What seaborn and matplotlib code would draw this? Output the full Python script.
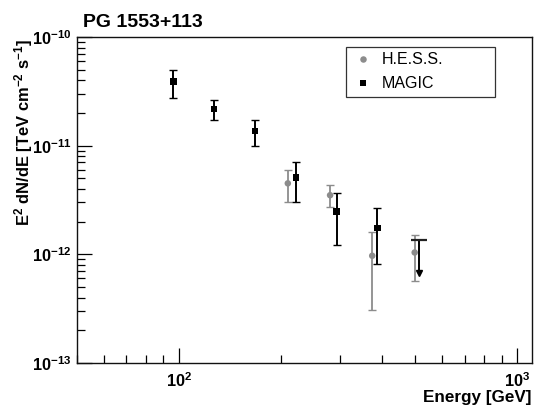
import numpy as np
import pandas as pd
import matplotlib
matplotlib.use("Agg")
import matplotlib.pyplot as plt
import matplotlib.ticker as mticker
import seaborn as sns

# H.E.S.S. spectral points (energy in GeV, E^2 dN/dE in TeV cm^-2 s^-1)
hess_e = [210, 280, 373, 498]
hess_f = [4.5e-12, 3.5e-12, 9.7e-13, 1.04e-12]
hess_hi = [6.0e-12, 4.3e-12, 1.62e-12, 1.52e-12]
hess_lo = [3.05e-12, 2.7e-12, 3.1e-13, 5.7e-13]

# MAGIC spectral points
magic_e = [96.4, 127, 168, 222, 293, 386]
magic_f = [3.9e-11, 2.17e-11, 1.36e-11, 5.1e-12, 2.47e-12, 1.74e-12]
magic_hi = [4.97e-11, 2.62e-11, 1.73e-11, 7.1e-12, 3.7e-12, 2.67e-12]
magic_lo = [2.77e-11, 1.71e-11, 9.9e-12, 3.05e-12, 1.22e-12, 8.15e-13]

# MAGIC upper limit
ul_e = [512]
ul_f = [1.36e-12]
ul_tip = [6.7e-13]

# axis ticks
x_major = [1e2, 1e3]
y_major = [1e-13, 1e-12, 1e-11, 1e-10]

hess_col = "#8c8c8c"
magic_col = "#000000"

sns.set_style("ticks")
plt.rcParams["font.family"] = ["Liberation Sans", "DejaVu Sans"]
plt.rcParams["mathtext.fontset"] = "custom"
plt.rcParams["mathtext.rm"] = "Liberation Sans"
plt.rcParams["mathtext.bf"] = "Liberation Sans:bold"
plt.rcParams["mathtext.it"] = "Liberation Sans:italic"
for k in ["text.color", "axes.labelcolor", "xtick.color", "ytick.color", "axes.edgecolor"]:
    plt.rcParams[k] = "black"

df = pd.concat([
    pd.DataFrame({"energy": hess_e, "flux": hess_f, "exp": "H.E.S.S."}),
    pd.DataFrame({"energy": magic_e, "flux": magic_f, "exp": "MAGIC"}),
], ignore_index=True)

fig = plt.figure(figsize=(5.34, 4.07), dpi=100)
ax = fig.add_axes([0.1442, 0.1081, 0.8521, 0.8010])

# error bars
ax.errorbar(hess_e, hess_f,
            yerr=[np.array(hess_f) - np.array(hess_lo), np.array(hess_hi) - np.array(hess_f)],
            fmt="none", ecolor=hess_col, elinewidth=1.3, capsize=3, capthick=1, zorder=2)
ax.errorbar(magic_e, magic_f,
            yerr=[np.array(magic_f) - np.array(magic_lo), np.array(magic_hi) - np.array(magic_f)],
            fmt="none", ecolor=magic_col, elinewidth=1.4, capsize=3, capthick=1, zorder=2)

# upper limit: bar + arrow
for e, f, t in zip(ul_e, ul_f, ul_tip):
    ax.plot([e, e], [f, t], color="black", lw=1.4, zorder=2)
    ax.plot([e], [f], marker="_", ms=11, mew=1.6, color="#222222", zorder=3)
    ax.plot([e], [t], marker="v", ms=5, color="black", zorder=3)

sns.scatterplot(data=df, x="energy", y="flux", hue="exp", style="exp",
                palette={"H.E.S.S.": hess_col, "MAGIC": magic_col},
                markers={"H.E.S.S.": "o", "MAGIC": "s"},
                s=22, linewidth=0, ax=ax, zorder=4)

ax.set_xscale("log")
ax.set_yscale("log")
ax.set_xlim(50, 1107)
ax.set_ylim(1e-13, 1e-10)

fmt = mticker.FuncFormatter(lambda v, p: r"$\mathbf{10^{%d}}$" % int(round(np.log10(v))))
ax.xaxis.set_major_locator(mticker.FixedLocator(x_major))
ax.yaxis.set_major_locator(mticker.FixedLocator(y_major))
ax.xaxis.set_major_formatter(fmt)
ax.yaxis.set_major_formatter(fmt)
ax.xaxis.set_minor_locator(mticker.LogLocator(base=10, subs=np.arange(2, 10)))
ax.yaxis.set_minor_locator(mticker.LogLocator(base=10, subs=np.arange(2, 10)))
ax.xaxis.set_minor_formatter(mticker.NullFormatter())
ax.yaxis.set_minor_formatter(mticker.NullFormatter())

ax.tick_params(which="both", direction="in", top=False, right=False, color="black", width=0.9)
ax.tick_params(which="major", length=11, labelsize=11.8)
ax.tick_params(which="minor", length=6)
ax.tick_params(axis="x", which="major", pad=6)
ax.tick_params(axis="y", which="major", pad=4)
for sp in ax.spines.values():
    sp.set_visible(True)
    sp.set_linewidth(1.0)
    sp.set_color("#111111")

ax.set_xlabel("")
ax.set_ylabel("")

handles, labels = ax.get_legend_handles_labels()
leg = ax.legend(handles, labels, loc="upper left", bbox_to_anchor=(0.5906, 0.970, 0.3274, 0),
                mode="expand", borderaxespad=0, borderpad=0.35, handlelength=1.4,
                handletextpad=0.5, labelspacing=0.55, fontsize=11.5, fancybox=False,
                framealpha=1, edgecolor="#333333", title=None)
leg.get_frame().set_linewidth(0.9)

fig.text(0.155, 0.934, "PG 1553+113", fontsize=14, fontweight="bold", ha="left", va="baseline")
fig.text(0.044, 0.905, r"E$^{\mathbf{2}}$ dN/dE [TeV cm$^{\mathbf{-2}}$ s$^{\mathbf{-1}}$]",
         rotation=90, fontsize=11.9, fontweight="bold", ha="center", va="top")
fig.text(0.996, 0.0123, "Energy [GeV]", fontsize=12.3, fontweight="bold", ha="right", va="baseline")

fig.savefig("out.png", dpi=100)
